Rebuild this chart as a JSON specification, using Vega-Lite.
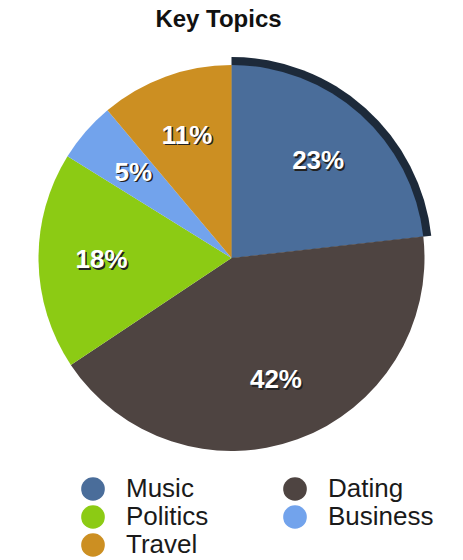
{
  "$schema": "https://vega.github.io/schema/vega-lite/v6.json",
  "width": 463,
  "height": 426,
  "autosize": {"type": "none"},
  "padding": {"top": 45, "bottom": 89, "left": 0, "right": 0},
  "background": "white",
  "title": {"text": "Key Topics", "font": "Liberation Sans", "fontSize": 24, "fontWeight": "bold", "color": "#111111", "anchor": "middle", "offset": 13, "dx": -13},
  "data": {"values": [
    {"topic": "Music", "pct": 23, "rank": 1},
    {"topic": "Dating", "pct": 42, "rank": 2},
    {"topic": "Politics", "pct": 18, "rank": 3},
    {"topic": "Business", "pct": 5, "rank": 4},
    {"topic": "Travel", "pct": 11, "rank": 5}
  ]},
  "encoding": {
    "theta": {"field": "pct", "type": "quantitative", "stack": true},
    "order": {"field": "rank", "type": "quantitative"}
  },
  "layer": [
    {
      "mark": {"type": "arc", "outerRadius": 201},
      "encoding": {
        "fill": {"condition": {"test": "datum.topic == 'Music'", "value": "#1d2a3a"}, "value": "transparent"}
      }
    },
    {
      "mark": {"type": "arc", "outerRadius": 193},
      "encoding": {
        "color": {
          "field": "topic", "type": "nominal",
          "scale": {"domain": ["Music", "Dating", "Politics", "Business", "Travel"],
                    "range": ["#4a6d9a", "#4e4441", "#8ccb14", "#72a3ec", "#cc8f22"]},
          "legend": {
            "title": null, "orient": "none", "legendX": 80, "legendY": 431, "direction": "horizontal", "columns": 2,
            "symbolType": "circle", "symbolSize": 560, "symbolStrokeWidth": 0,
            "labelFont": "Liberation Sans", "labelFontSize": 26, "labelColor": "#1a1a1a", "labelLimit": 300,
            "labelOffset": 20, "columnPadding": 73, "rowPadding": 2, "padding": 0
          }
        }
      }
    },
    {
      "mark": {"type": "text", "radius": 130, "font": "Liberation Sans", "fontSize": 26, "fontWeight": "bold", "fill": "#222222", "dx": 1.5, "dy": 1.5},
      "encoding": {"text": {"field": "label", "type": "nominal"}},
      "transform": [{"calculate": "datum.pct + '%'", "as": "label"}]
    },
    {
      "mark": {"type": "text", "radius": 130, "font": "Liberation Sans", "fontSize": 26, "fontWeight": "bold", "fill": "#ffffff"},
      "encoding": {"text": {"field": "label", "type": "nominal"}},
      "transform": [{"calculate": "datum.pct + '%'", "as": "label"}]
    }
  ]
}
